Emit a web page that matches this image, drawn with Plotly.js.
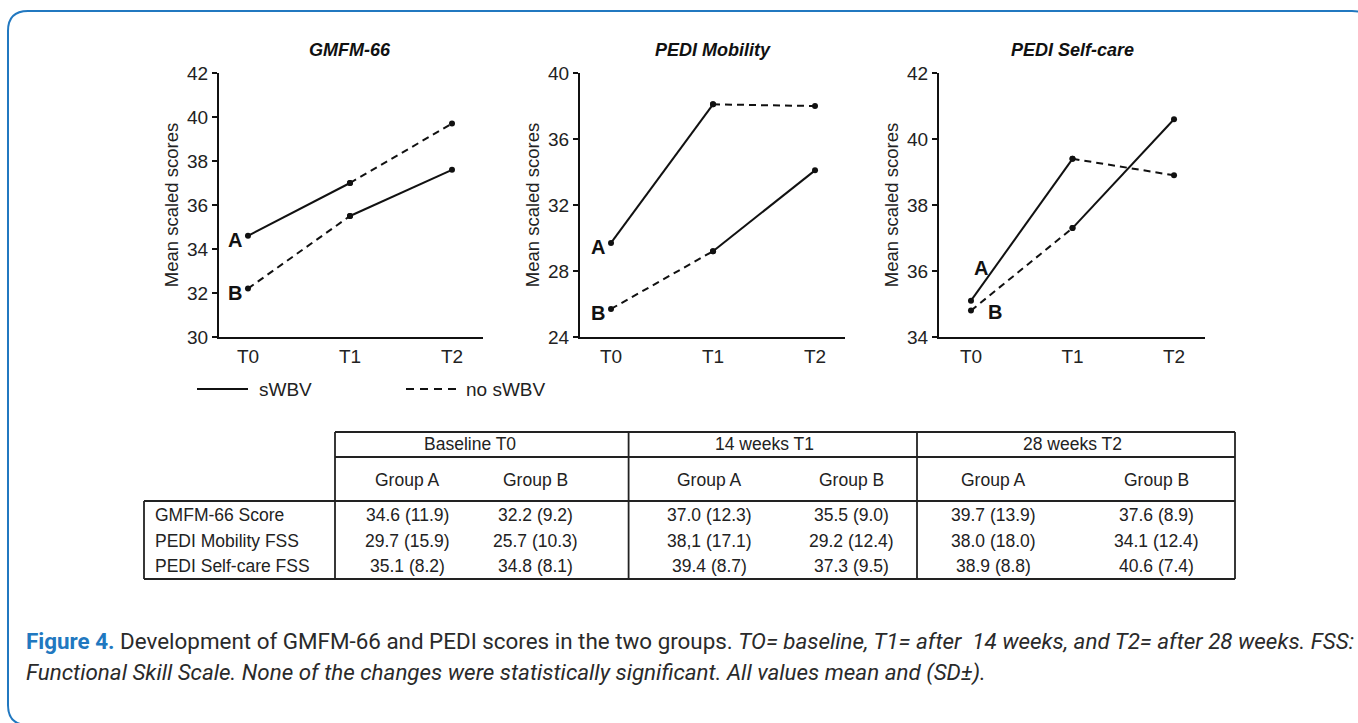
<!DOCTYPE html>
<html>
<head>
<meta charset="utf-8">
<script src="https://cdn.plot.ly/plotly-3.0.1.min.js"></script>
<style>
html,body{margin:0;padding:0;background:#fff;}
#chart{width:1358px;height:723px;}
</style>
</head>
<body>
<div id="chart"></div>
<script>
// ---------- DATA ----------
const timepoints = ['T0', 'T1', 'T2'];
const panelTitles = ['GMFM-66', 'PEDI Mobility', 'PEDI Self-care'];
const gmfmA = [34.6, 37.0, 39.7];
const gmfmB = [32.2, 35.5, 37.6];
const mobilityA = [29.7, 38.1, 38.0];
const mobilityB = [25.7, 29.2, 34.1];
const selfcareA = [35.1, 39.4, 38.9];
const selfcareB = [34.8, 37.3, 40.6];
const yTicks1 = [30, 32, 34, 36, 38, 40, 42];
const yTicks2 = [24, 28, 32, 36, 40];
const yTicks3 = [34, 36, 38, 40, 42];
const legendLabels = ['sWBV', 'no sWBV'];
const groupLabels = ['A', 'B'];
const tablePeriods = ['Baseline T0', '14 weeks T1', '28 weeks T2'];
const tableGroups = ['Group A', 'Group B', 'Group A', 'Group B', 'Group A', 'Group B'];
const tableRowLabels = ['GMFM-66 Score', 'PEDI Mobility FSS', 'PEDI Self-care FSS'];
const tableRow1 = ['34.6 (11.9)', '32.2 (9.2)', '37.0 (12.3)', '35.5 (9.0)', '39.7 (13.9)', '37.6 (8.9)'];
const tableRow2 = ['29.7 (15.9)', '25.7 (10.3)', '38,1 (17.1)', '29.2 (12.4)', '38.0 (18.0)', '34.1 (12.4)'];
const tableRow3 = ['35.1 (8.2)', '34.8 (8.1)', '39.4 (8.7)', '37.3 (9.5)', '38.9 (8.8)', '40.6 (7.4)'];

// ---------- LAYOUT HELPERS ----------
const W = 1358, H = 723;
const px = x => x / W;
const py = y => 1 - y / H;
const INK = '#111';
const TXT = '#222';
const ARIAL = 'Liberation Sans, Arial, sans-serif';
const BLUE = '#2178c0';

const panels = [
  {A: gmfmA, B: gmfmB, ticks: yTicks1, x0: 219, x1: 483, xr: [-0.284, 2.304]},
  {A: mobilityA, B: mobilityB, ticks: yTicks2, x0: 580, x1: 845, xr: [-0.304, 2.294]},
  {A: selfcareA, B: selfcareB, ticks: yTicks3, x0: 939, x1: 1205, xr: [-0.315, 2.305]}
];
const yTop = 73, yBot = 337;

const traces = [];
const layout = {
  width: W, height: H,
  margin: {l: 0, r: 0, t: 0, b: 0},
  paper_bgcolor: '#fff', plot_bgcolor: 'rgba(0,0,0,0)',
  showlegend: false,
  font: {family: ARIAL, color: TXT},
  shapes: [], annotations: []
};

panels.forEach((p, i) => {
  const n = i === 0 ? '' : String(i + 1);
  const xa = 'x' + n, ya = 'y' + n;
  const seg = (vals, a, b, dash) => ({
    x: [timepoints[a], timepoints[b]], y: [vals[a], vals[b]],
    xaxis: xa, yaxis: ya, type: 'scatter', mode: 'lines+markers',
    line: {color: INK, width: 2, dash: dash},
    marker: {color: INK, size: 6},
    hoverinfo: 'x+y'
  });
  traces.push(seg(p.A, 0, 1, 'solid'));
  traces.push(seg(p.A, 1, 2, '7px,5px'));
  traces.push(seg(p.B, 0, 1, '7px,5px'));
  traces.push(seg(p.B, 1, 2, 'solid'));

  layout['xaxis' + n] = {
    domain: [px(p.x0), px(p.x1)], anchor: ya,
    type: 'category', range: p.xr,
    showline: true, linewidth: 2, linecolor: INK,
    ticks: 'outside', ticklen: 1, tickcolor: 'rgba(0,0,0,0)',
    showgrid: false, zeroline: false, fixedrange: true,
    tickfont: {family: ARIAL, size: 19, color: TXT}
  };
  layout['yaxis' + n] = {
    domain: [py(yBot), py(yTop)], anchor: xa,
    range: [p.ticks[0], p.ticks[p.ticks.length - 1]],
    tickvals: p.ticks,
    showline: true, linewidth: 2, linecolor: INK,
    ticks: 'outside', ticklen: 5, tickwidth: 2, tickcolor: INK,
    showgrid: false, zeroline: false, fixedrange: true,
    tickfont: {family: ARIAL, size: 19, color: TXT},
    title: {text: 'Mean scaled scores', font: {family: ARIAL, size: 18.5, color: TXT}, standoff: 4}
  };
  // panel title
  layout.annotations.push({
    xref: 'paper', yref: 'paper', x: px((p.x0 + p.x1) / 2 + (i === 0 ? -1 : 0)), y: py(50),
    text: '<b><i>' + panelTitles[i] + '</i></b>', showarrow: false,
    font: {family: ARIAL, size: 18, color: '#111'}, xanchor: 'center', yanchor: 'middle'
  });
  // group labels A / B
  const labA = i === 2 ? {xs: 10, ys: 33} : {xs: -13, ys: -4};
  const labB = i === 2 ? {xs: 24, ys: -1} : {xs: -13, ys: -4};
  layout.annotations.push({
    xref: xa, yref: ya, x: timepoints[0], y: p.A[0], text: '<b>' + groupLabels[0] + '</b>',
    showarrow: false, xshift: labA.xs, yshift: labA.ys,
    font: {family: ARIAL, size: 20, color: '#111'}
  });
  layout.annotations.push({
    xref: xa, yref: ya, x: timepoints[0], y: p.B[0], text: '<b>' + groupLabels[1] + '</b>',
    showarrow: false, xshift: labB.xs, yshift: labB.ys,
    font: {family: ARIAL, size: 20, color: '#111'}
  });
});

// ---------- LEGEND ----------
const legY = 389;
layout.shapes.push({type: 'line', xref: 'paper', yref: 'paper', x0: px(197), x1: px(248), y0: py(legY), y1: py(legY), line: {color: INK, width: 2}});
layout.shapes.push({type: 'line', xref: 'paper', yref: 'paper', x0: px(406), x1: px(458), y0: py(legY), y1: py(legY), line: {color: INK, width: 2, dash: '8px,6px'}});
layout.annotations.push({xref: 'paper', yref: 'paper', x: px(257), y: py(legY), xanchor: 'left', yanchor: 'middle', showarrow: false, text: legendLabels[0], font: {family: ARIAL, size: 19, color: TXT}});
layout.annotations.push({xref: 'paper', yref: 'paper', x: px(464), y: py(legY), xanchor: 'left', yanchor: 'middle', showarrow: false, text: legendLabels[1], font: {family: ARIAL, size: 19, color: TXT}});

// ---------- TABLE ----------
const tL = 144, tC = 335, tR = 1235, tTop = 432, tMid = 457, tBody = 501, tBot = 579;
const colSep = [628.6, 917];
const tl = {color: '#222', width: 1.8};
const hline = (x0, x1, y) => layout.shapes.push({type: 'line', xref: 'paper', yref: 'paper', x0: px(x0), x1: px(x1), y0: py(y), y1: py(y), line: tl});
const vline = (x, y0, y1) => layout.shapes.push({type: 'line', xref: 'paper', yref: 'paper', x0: px(x), x1: px(x), y0: py(y0), y1: py(y1), line: tl});
hline(tC, tR, tTop); hline(tC, tR, tMid); hline(tL, tR, tBody); hline(tL, tR, tBot);
vline(tL, tBody, tBot); vline(tC, tTop, tBot); vline(tR, tTop, tBot);
colSep.forEach(x => vline(x, tTop, tBot));

const periodCenters = [470, 764, 1072];
const colCenters = [407, 535, 709, 851, 994, 1156];
const rowYs = [515, 541, 566];
const cellFont = {family: ARIAL, size: 17.5, color: TXT};
const txt = (x, y, s, anchor) => layout.annotations.push({xref: 'paper', yref: 'paper', x: px(x), y: py(y), text: s, showarrow: false, xanchor: anchor || 'center', yanchor: 'middle', font: cellFont});
tablePeriods.forEach((s, k) => txt(periodCenters[k], 444, s));
tableGroups.forEach((s, k) => txt(colCenters[k], 480, s));
tableRowLabels.forEach((s, r) => txt(153, rowYs[r], s, 'left'));
[tableRow1, tableRow2, tableRow3].forEach((row, r) => row.forEach((s, k) => txt(colCenters[k], rowYs[r], s)));

// ---------- FRAME ----------
const f = (x, y) => px(x).toFixed(5) + ',' + py(y).toFixed(5);
layout.shapes.push({
  type: 'path', xref: 'paper', yref: 'paper',
  path: 'M' + f(1372, 31) + ' Q' + f(1372, 11) + ' ' + f(1352, 11) + ' L' + f(28, 11) + ' Q' + f(8, 11) + ' ' + f(8, 31) +
        ' L' + f(8, 705) + ' Q' + f(8, 725) + ' ' + f(28, 725) + ' L' + f(1352, 725),
  line: {color: BLUE, width: 2}
});

// ---------- CAPTION ----------
const capFont = {family: 'Roboto, sans-serif', size: 22.4, color: '#2a2a2a'};
layout.annotations.push({
  xref: 'paper', yref: 'paper', x: px(24), y: py(641), xanchor: 'left', yanchor: 'middle', showarrow: false, align: 'left',
  text: '<span style="color:' + BLUE + '"><b>Figure 4.</b></span> Development of GMFM-66 and PEDI scores in the two groups. <i>TO= baseline, T1= after \u00a014 weeks, and T2= after 28 weeks. FSS:</i>',
  font: capFont
});
layout.annotations.push({
  xref: 'paper', yref: 'paper', x: px(24), y: py(672), xanchor: 'left', yanchor: 'middle', showarrow: false, align: 'left',
  text: '<i>Functional Skill Scale. None of the changes were statistically significant. All values mean and (SD\u00b1).</i>',
  font: capFont
});

Plotly.newPlot('chart', traces, layout, {displayModeBar: false, staticPlot: true});
</script>
</body>
</html>
